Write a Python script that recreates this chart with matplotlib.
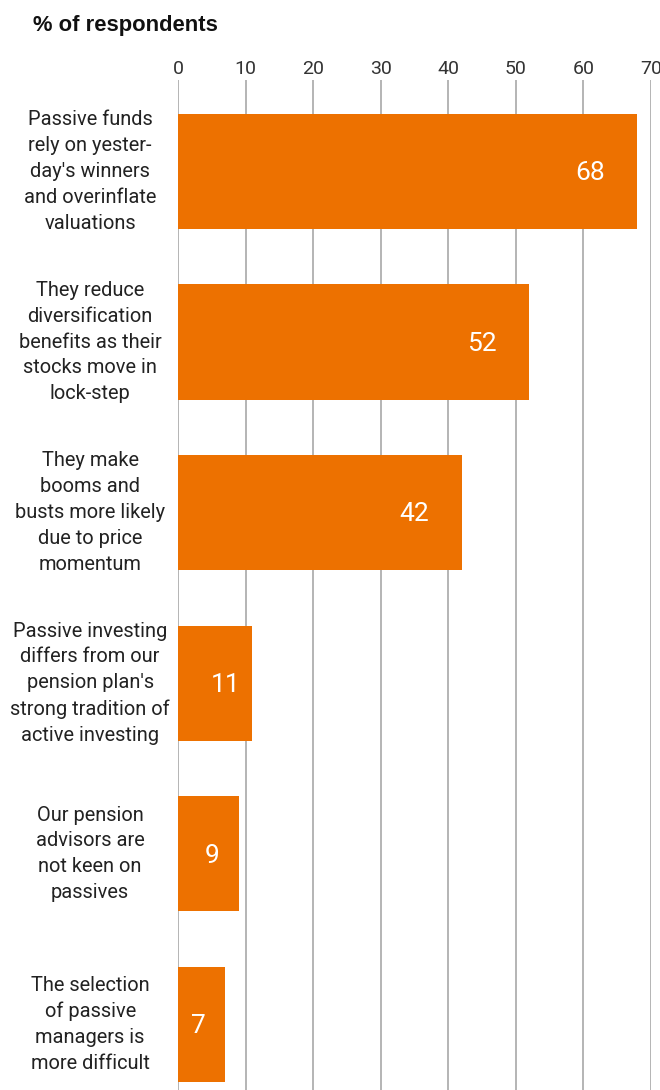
import matplotlib.pyplot as plt

# survey results: reasons for skepticism toward passive investing
categories = [
    "Passive funds\nrely on yester-\nday's winners\nand overinflate\nvaluations",
    "They reduce\ndiversification\nbenefits as their\nstocks move in\nlock-step",
    "They make\nbooms and\nbusts more likely\ndue to price\nmomentum",
    "Passive investing\ndiffers from our\npension plan's\nstrong tradition of\nactive investing",
    "Our pension\nadvisors are\nnot keen on\npassives",
    "The selection\nof passive\nmanagers is\nmore difficult",
]
values = [68, 52, 42, 11, 9, 7]
ticks = [0, 10, 20, 30, 40, 50, 60, 70]

BAR_COLOR = '#ED7100'
GRID_COLOR = '#AFAFAF'
TEXT_COLOR = '#222222'

plt.rcParams['font.family'] = ['Roboto', 'DejaVu Sans']

fig = plt.figure(figsize=(6.6, 10.9), dpi=100)
ax = fig.add_axes([178 / 660, 0.0, 473 / 660, 1 - 80 / 1090])

ypos = list(range(len(values)))
ax.barh(ypos, values, height=0.675, color=BAR_COLOR, zorder=3)

ax.set_xlim(0, 70)
ax.set_ylim(5.384, -0.536)

ax.set_xticks(ticks)
ax.xaxis.tick_top()
ax.tick_params(axis='x', length=0, pad=1.5, labelsize=14, labelcolor='#333333')
ax.set_yticks([])
ax.grid(axis='x', color=GRID_COLOR, linewidth=1.3, zorder=0)
for s in ax.spines.values():
    s.set_visible(False)

# value labels inside the bars
for y, v in zip(ypos, values):
    xv = v - 7 if v > 20 else v - 4
    ax.text(xv, y + 0.01, str(v), color='white', fontsize=19,
            ha='center', va='center', zorder=4)

# category labels to the left of the axis
for y, c in zip(ypos, categories):
    ax.text(-13.0, y, c, ha='center', va='center', multialignment='center',
            fontsize=14.4, color=TEXT_COLOR,
            linespacing=1.46, transform=ax.transData, clip_on=False)

fig.text(33 / 660, 1 - 25 / 1090, "% of respondents", fontsize=15.8,
         fontweight='bold', color='#111111', ha='left', va='center',
         family=['Liberation Sans', 'DejaVu Sans'])

fig.savefig('out.png', dpi=100)
